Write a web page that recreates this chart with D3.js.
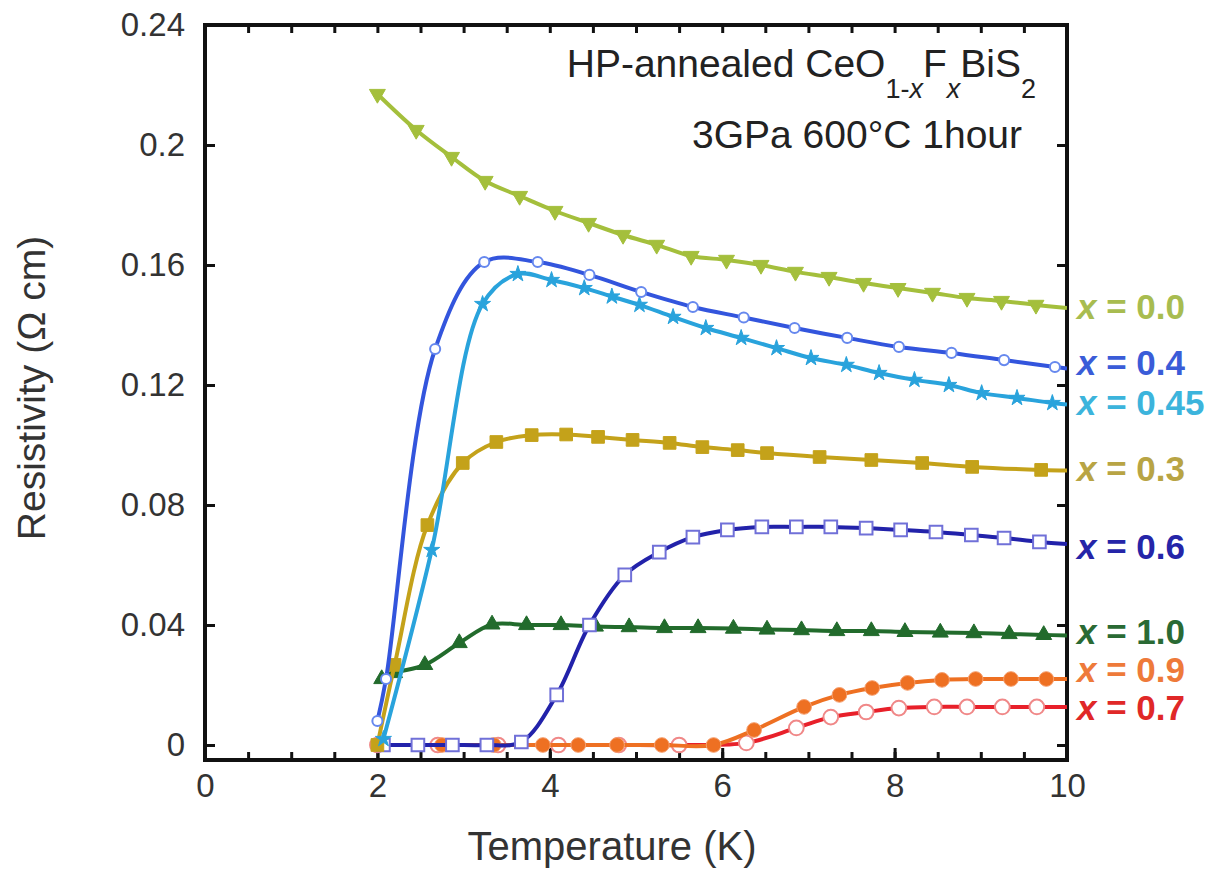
<!DOCTYPE html>
<html>
<head>
<meta charset="utf-8">
<script src="https://cdn.jsdelivr.net/npm/d3@7"></script>
<style>
  body { margin: 0; background: #fff; }
  svg text { font-family: "Liberation Sans", Arial, sans-serif; }
</style>
</head>
<body>
<svg id="chart" width="1217" height="875"></svg>
<script>
// tick values
const tempTicks = [0, 2, 4, 6, 8, 10];
const rhoTicks = [0, 0.04, 0.08, 0.12, 0.16, 0.2, 0.24];
const rhoTickLabels = ["0", "0.04", "0.08", "0.12", "0.16", "0.2", "0.24"];

// series: temperature (K) and resistivity (ohm cm)
const x00T = [2.0, 2.45, 2.86, 3.25, 3.65, 4.06, 4.45, 4.85, 5.24, 5.64, 6.05, 6.45, 6.85, 7.24, 7.64, 8.04, 8.44, 8.84, 9.24, 9.64];
const x00R = [0.217, 0.205, 0.196, 0.188, 0.183, 0.178, 0.174, 0.170, 0.1667, 0.163, 0.1617, 0.160, 0.1577, 0.156, 0.154, 0.1523, 0.1507, 0.149, 0.148, 0.1467];

const x04T = [2.0, 2.1, 2.67, 3.24, 3.86, 4.46, 5.06, 5.66, 6.25, 6.84, 7.45, 8.05, 8.66, 9.27, 9.86];
const x04R = [0.008, 0.022, 0.132, 0.161, 0.161, 0.1567, 0.151, 0.146, 0.1425, 0.139, 0.1357, 0.1327, 0.1307, 0.1283, 0.126];

const x045T = [2.07, 2.63, 3.22, 3.63, 4.02, 4.40, 4.72, 5.04, 5.43, 5.81, 6.22, 6.63, 7.03, 7.44, 7.82, 8.23, 8.63, 9.01, 9.42, 9.83];
const x045R = [0.002, 0.065, 0.147, 0.157, 0.155, 0.1523, 0.1495, 0.1467, 0.1427, 0.139, 0.1357, 0.1323, 0.129, 0.1267, 0.124, 0.1217, 0.12, 0.1173, 0.1157, 0.114];

const x03T = [2.0, 2.2, 2.58, 2.99, 3.38, 3.79, 4.19, 4.56, 4.96, 5.39, 5.77, 6.18, 6.52, 7.13, 7.73, 8.32, 8.90, 9.70];
const x03R = [0.0, 0.0267, 0.0733, 0.094, 0.101, 0.1033, 0.1035, 0.1027, 0.1017, 0.1007, 0.0993, 0.0983, 0.0973, 0.096, 0.095, 0.094, 0.0927, 0.0917];

const x06T = [2.07, 2.47, 2.87, 3.27, 3.67, 4.08, 4.46, 4.87, 5.27, 5.66, 6.06, 6.46, 6.86, 7.26, 7.67, 8.07, 8.48, 8.89, 9.27, 9.68];
const x06R = [0, 0, 0, 0, 0.001, 0.0167, 0.04, 0.0567, 0.0643, 0.0693, 0.0717, 0.0727, 0.0727, 0.0727, 0.0723, 0.0717, 0.071, 0.07, 0.069, 0.0677];

const x10T = [2.05, 2.2, 2.55, 2.95, 3.33, 3.73, 4.13, 4.53, 4.92, 5.33, 5.72, 6.13, 6.52, 6.92, 7.33, 7.73, 8.12, 8.53, 8.92, 9.33, 9.73];
const x10R = [0.022, 0.024, 0.0267, 0.034, 0.0402, 0.040, 0.040, 0.0395, 0.0393, 0.039, 0.039, 0.0388, 0.0385, 0.0383, 0.038, 0.038, 0.0377, 0.0375, 0.0373, 0.037, 0.0367];

const x09T = [2.75, 3.35, 3.92, 4.33, 4.78, 5.3, 5.9, 6.37, 6.95, 7.36, 7.74, 8.15, 8.55, 8.94, 9.35, 9.76];
const x09R = [0, 0, 0, 0, 0, 0, 0, 0.005, 0.0127, 0.0167, 0.019, 0.0207, 0.0217, 0.022, 0.022, 0.022];

const x07T = [2.0, 2.7, 3.4, 4.1, 4.8, 5.5, 6.28, 6.86, 7.26, 7.67, 8.05, 8.46, 8.84, 9.25, 9.65];
const x07R = [0, 0, 0, 0, 0, 0, 0.0007, 0.0057, 0.0093, 0.011, 0.0123, 0.0127, 0.0127, 0.0127, 0.0127];

// where each line meets the right axis (T = 10 K)
const edgeR = { "0.0": 0.1457, "0.4": 0.1255, "0.45": 0.1135, "0.3": 0.0915, "0.6": 0.067, "1.0": 0.0365, "0.9": 0.022, "0.7": 0.0127 };

const series = [
    { name: "0.7", T: x07T, R: x07R, color: "#e8202a", mark: "circle", open: true, stroke: "#f08888", size: 170, labelY: 708, labelColor: "#e02828" },
    { name: "0.9", T: x09T, R: x09R, color: "#ee7022", mark: "circle", open: false, stroke: "#f6a070", size: 170, labelY: 670, labelColor: "#ee7a3a" },
    { name: "1.0", T: x10T, R: x10R, color: "#226b2c", mark: "triangle", open: false, stroke: "#226b2c", size: 110, labelY: 632, labelColor: "#2a6a34" },
    { name: "0.6", T: x06T, R: x06R, color: "#2222aa", mark: "square", open: true, stroke: "#7070d8", size: 160, labelY: 547, labelColor: "#2525a8" },
    { name: "0.3", T: x03T, R: x03R, color: "#c4a21a", mark: "square", open: false, stroke: "#c4a21a", size: 160, labelY: 469, labelColor: "#b8a444" },
    { name: "0.45", T: x045T, R: x045R, color: "#29a3dc", mark: "star", open: false, stroke: "#29a3dc", size: 80, labelY: 403, labelColor: "#3cb4dc" },
    { name: "0.4", T: x04T, R: x04R, color: "#3355dd", mark: "circle", open: true, stroke: "#6688ee", size: 80, labelY: 363, labelColor: "#3a5cd8" },
    { name: "0.0", T: x00T, R: x00R, color: "#a4bf3c", mark: "triangle-down", open: false, stroke: "#a4bf3c", size: 110, labelY: 307, labelColor: "#a8bc50" }
];

const svg = d3.select("#chart");
const plotLeft = 205, plotRight = 1067, plotTop = 25, plotBottom = 760;

const x = d3.scaleLinear().domain([0, 10]).range([plotLeft, plotRight]);
const y = d3.scaleLinear().domain([-0.005, 0.24]).range([plotBottom, plotTop]);

svg.append("defs").append("clipPath").attr("id", "plotClip")
    .append("rect")
    .attr("x", plotLeft).attr("y", plotTop)
    .attr("width", plotRight - plotLeft).attr("height", plotBottom - plotTop);

// ticks, pointing inwards
function styleAxis(g) {
    g.select(".domain").remove();
    g.selectAll(".tick line").attr("stroke", "#111").attr("stroke-width", 3);
    g.selectAll(".tick text")
        .attr("fill", "#333")
        .attr("font-size", 33);
}

const minorT = d3.range(0, 10.01, 0.5);

svg.append("g")
    .attr("transform", `translate(0,${plotBottom})`)
    .call(d3.axisBottom(x).tickValues(minorT).tickSize(-8).tickFormat(""))
    .call(styleAxis);

svg.append("g")
    .attr("transform", `translate(0,${plotBottom})`)
    .call(d3.axisBottom(x).tickValues(tempTicks).tickSize(-12).tickPadding(14).tickFormat(d3.format("d")))
    .call(styleAxis);

svg.append("g")
    .attr("transform", `translate(0,${plotTop})`)
    .call(d3.axisTop(x).tickValues(minorT).tickSize(-8).tickFormat(""))
    .call(styleAxis);

svg.append("g")
    .attr("transform", `translate(${plotLeft},0)`)
    .call(d3.axisLeft(y).tickValues(rhoTicks).tickSize(-10).tickPadding(20)
        .tickFormat((d, i) => rhoTickLabels[i]))
    .call(styleAxis);

svg.append("g")
    .attr("transform", `translate(${plotRight},0)`)
    .call(d3.axisRight(y).tickValues(rhoTicks).tickSize(-10).tickFormat(""))
    .call(styleAxis);

// frame
svg.append("rect")
    .attr("x", plotLeft).attr("y", plotTop)
    .attr("width", plotRight - plotLeft).attr("height", plotBottom - plotTop)
    .attr("fill", "none")
    .attr("stroke", "#111")
    .attr("stroke-width", 4);

// curves
const line = d3.line()
    .x(d => x(d[0]))
    .y(d => y(d[1]))
    .curve(d3.curveCatmullRom.alpha(0.5));

function symbolFor(mark) {
    if (mark == "circle") return d3.symbolCircle;
    if (mark == "square") return d3.symbolSquare;
    if (mark == "star") return d3.symbolStar;
    return d3.symbolTriangle;
}

const plot = svg.append("g").attr("clip-path", "url(#plotClip)");

series.forEach(function(s) {
    const pts = s.T.map((t, i) => [t, s.R[i]]);
    const linePts = pts.concat([[10, edgeR[s.name]]]);

    plot.append("path")
        .datum(linePts)
        .attr("d", line)
        .attr("fill", "none")
        .attr("stroke", s.color)
        .attr("stroke-width", 4);

    const sym = d3.symbol().type(symbolFor(s.mark)).size(s.size);
    plot.selectAll(null)
        .data(pts)
        .enter().append("path")
        .attr("d", sym)
        .attr("transform", d => `translate(${x(d[0])},${y(d[1])})` + (s.mark == "triangle-down" ? " rotate(180)" : ""))
        .attr("fill", s.open ? "#fff" : s.color)
        .attr("stroke", s.stroke)
        .attr("stroke-width", s.open ? 2 : 1);
});

// labels on the right
series.forEach(function(s) {
    const t = svg.append("text")
        .attr("x", 1077)
        .attr("y", s.labelY + 12)
        .attr("font-size", 35)
        .attr("font-weight", "bold")
        .attr("fill", s.labelColor);
    t.append("tspan").attr("font-style", "italic").text("x");
    t.append("tspan").text(" = " + s.name);
});

// title
const title = svg.append("text")
    .attr("x", 1036)
    .attr("y", 77)
    .attr("text-anchor", "end")
    .attr("font-size", 39)
    .attr("fill", "#222");
title.append("tspan").text("HP-annealed CeO");
title.append("tspan").attr("dy", 21).attr("font-size", 27).text("1-");
title.append("tspan").attr("font-size", 27).attr("font-style", "italic").text("x");
title.append("tspan").attr("dy", -21).text("F");
title.append("tspan").attr("dy", 21).attr("font-size", 27).attr("font-style", "italic").text("x");
title.append("tspan").attr("dy", -21).text("BiS");
title.append("tspan").attr("dy", 21).attr("font-size", 27).text("2");

svg.append("text")
    .attr("x", 1022)
    .attr("y", 148)
    .attr("text-anchor", "end")
    .attr("font-size", 39)
    .attr("fill", "#222")
    .text("3GPa 600°C 1hour");

// axis titles
svg.append("text")
    .attr("x", 612)
    .attr("y", 860)
    .attr("text-anchor", "middle")
    .attr("font-size", 40)
    .attr("fill", "#333")
    .text("Temperature (K)");

svg.append("text")
    .attr("transform", "translate(45,388) rotate(-90)")
    .attr("text-anchor", "middle")
    .attr("font-size", 39)
    .attr("fill", "#333")
    .text("Resistivity (Ω cm)");
</script>
</body>
</html>
